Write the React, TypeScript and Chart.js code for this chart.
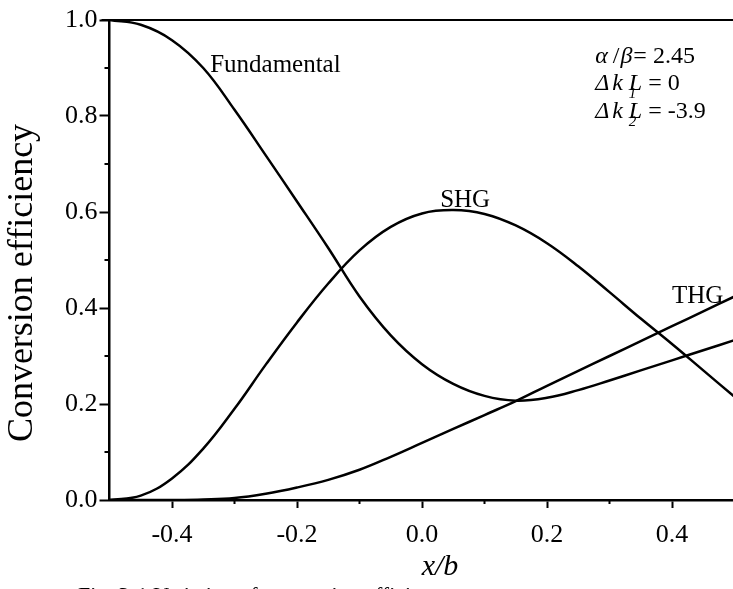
import { useEffect, useRef } from 'react';
import { Chart, registerables } from 'chart.js';

Chart.register(...registerables);

// Normalised position across the crystal
const xValues = [
  -0.5, -0.45, -0.4, -0.35, -0.3, -0.25, -0.2, -0.15, -0.1, -0.05, 0,
  0.05, 0.1, 0.15, 0.2, 0.25, 0.3, 0.35, 0.4, 0.45, 0.5,
];

// Conversion efficiency of each wave
const fundamental = [
  1.0, 0.99, 0.958, 0.9, 0.813, 0.718, 0.622, 0.525, 0.424, 0.343, 0.283,
  0.242, 0.217, 0.207, 0.213, 0.229, 0.249, 0.27, 0.291, 0.312, 0.333,
];
const shg = [
  0.0, 0.009, 0.045, 0.107, 0.19, 0.282, 0.37, 0.451, 0.52, 0.569, 0.597,
  0.604, 0.596, 0.572, 0.535, 0.487, 0.433, 0.378, 0.325, 0.27, 0.215,
];
const thg = [
  0.0, 0.0, 0.0, 0.001, 0.004, 0.013, 0.026, 0.042, 0.063, 0.09, 0.119,
  0.148, 0.177, 0.206, 0.238, 0.269, 0.3, 0.331, 0.362, 0.393, 0.424,
];

const xTickValues = [-0.4, -0.2, 0, 0.2, 0.4];
const xMinorValues = [-0.3, -0.1, 0.1, 0.3];
const yTickValues = [0, 0.2, 0.4, 0.6, 0.8, 1.0];
const yMinorValues = [0.1, 0.3, 0.5, 0.7, 0.9];

const curveLabels = [
  { text: 'Fundamental', x: -0.339, y: 0.892 },
  { text: 'SHG', x: 0.029, y: 0.61 },
  { text: 'THG', x: 0.4, y: 0.41 },
];

const parameterAnchor = { x: 0.277, rows: [0.91, 0.854, 0.796] };

const SERIF = '"Liberation Serif", "Times New Roman", serif';
const INK = '#000';

type Run = { text: string; font: string; dx?: number; dy?: number; hold?: boolean };

function drawRuns(ctx: CanvasRenderingContext2D, x: number, y: number, runs: Run[]) {
  let cx = x;
  for (const r of runs) {
    ctx.font = r.font;
    const px = cx + (r.dx || 0);
    ctx.fillText(r.text, px, y + (r.dy || 0));
    if (!r.hold) cx = px + ctx.measureText(r.text).width;
  }
}

const decorations = {
  id: 'decorations',
  afterDraw(chart: any) {
    const { ctx, chartArea, scales } = chart;
    const xs = scales.x;
    const ys = scales.y;
    ctx.save();
    ctx.strokeStyle = INK;
    ctx.fillStyle = INK;
    ctx.lineWidth = 2;

    // top frame line
    ctx.beginPath();
    ctx.moveTo(chartArea.left - 8, chartArea.top);
    ctx.lineTo(chartArea.right, chartArea.top);
    ctx.stroke();

    // minor ticks
    ctx.beginPath();
    for (const v of yMinorValues) {
      const py = ys.getPixelForValue(v);
      ctx.moveTo(chartArea.left - 5, py);
      ctx.lineTo(chartArea.left, py);
    }
    for (const v of xMinorValues) {
      const px = xs.getPixelForValue(v);
      ctx.moveTo(px, chartArea.bottom);
      ctx.lineTo(px, chartArea.bottom + 4);
    }
    ctx.stroke();

    // curve labels
    ctx.textAlign = 'left';
    ctx.textBaseline = 'alphabetic';
    ctx.font = `25px ${SERIF}`;
    for (const l of curveLabels) {
      ctx.fillText(l.text, xs.getPixelForValue(l.x), ys.getPixelForValue(l.y));
    }

    // parameter block
    const it = `italic 24px ${SERIF}`;
    const up = `24px ${SERIF}`;
    const sub = `italic 15px ${SERIF}`;
    const px0 = xs.getPixelForValue(parameterAnchor.x);
    const [r1, r2, r3] = parameterAnchor.rows.map((v) => ys.getPixelForValue(v));
    drawRuns(ctx, px0, r1, [
      { text: 'α', font: it },
      { text: '/', font: up, dx: 5 },
      { text: 'β', font: it, dx: 1 },
      { text: '=', font: up, dx: 1 },
      { text: ' 2.45', font: up },
    ]);
    drawRuns(ctx, px0, r2, [
      { text: 'Δ', font: it },
      { text: 'k', font: it, dx: 3 },
      { text: '1', font: sub, dx: 6, dy: 8, hold: true },
      { text: 'L', font: it, dx: 6 },
      { text: ' = 0', font: up },
    ]);
    drawRuns(ctx, px0, r3, [
      { text: 'Δ', font: it },
      { text: 'k', font: it, dx: 3 },
      { text: '2', font: sub, dx: 6, dy: 8, hold: true },
      { text: 'L', font: it, dx: 6 },
      { text: ' = -3.9', font: up },
    ]);

    // axis titles
    ctx.save();
    ctx.translate(32, (chartArea.top + chartArea.bottom) / 2 + 23);
    ctx.rotate(-Math.PI / 2);
    ctx.textAlign = 'center';
    ctx.font = `36px ${SERIF}`;
    ctx.fillText('Conversion efficiency', 0, 0);
    ctx.restore();

    ctx.textAlign = 'center';
    ctx.font = `italic 30px ${SERIF}`;
    ctx.fillText('x/b', (chartArea.left + chartArea.right) / 2 + 18, chartArea.bottom + 75);

    // figure caption
    ctx.textAlign = 'left';
    ctx.font = `22px ${SERIF}`;
    ctx.fillText('Fig. 3-1 Variation of conversion efficiency', 78, chartArea.bottom + 102);

    ctx.restore();
  },
};

export default function App() {
  const canvasRef = useRef<HTMLCanvasElement | null>(null);

  useEffect(() => {
    const canvas = canvasRef.current;
    if (!canvas) return;
    const series = [fundamental, shg, thg];
    const chart = new Chart(canvas, {
      type: 'line',
      data: {
        datasets: series.map((s, i) => ({
          label: ['Fundamental', 'SHG', 'THG'][i],
          data: xValues.map((x, j) => ({ x, y: s[j] })),
          borderColor: INK,
          borderWidth: 2.5,
          pointRadius: 0,
          fill: false,
          tension: 0.4,
        })),
      },
      options: {
        animation: false,
        responsive: false,
        events: [],
        layout: { padding: { left: 0, top: 20, right: 25.5, bottom: 0 } },
        plugins: { legend: { display: false }, tooltip: { enabled: false } },
        scales: {
          x: {
            type: 'linear',
            min: -0.5,
            max: 0.5,
            afterBuildTicks: (scale: any) => {
              scale.ticks = xTickValues.map((value) => ({ value }));
            },
            afterFit: (scale: any) => {
              scale.height = 89;
            },
            border: { display: true, color: INK, width: 2.5 },
            grid: { drawOnChartArea: false, drawTicks: true, tickLength: 8, tickColor: INK, tickWidth: 2 },
            ticks: {
              color: INK,
              padding: 12,
              maxRotation: 0,
              font: { family: SERIF, size: 26 },
              callback: (v: any) => Number(v).toFixed(1),
            },
          },
          y: {
            type: 'linear',
            min: 0,
            max: 1,
            afterBuildTicks: (scale: any) => {
              scale.ticks = yTickValues.map((value) => ({ value }));
            },
            afterFit: (scale: any) => {
              scale.width = 109.5;
            },
            border: { display: true, color: INK, width: 2.5 },
            grid: { drawOnChartArea: false, drawTicks: true, tickLength: 10, tickColor: INK, tickWidth: 2 },
            ticks: {
              color: INK,
              padding: 2,
              font: { family: SERIF, size: 26 },
              callback: (v: any) => Number(v).toFixed(1),
            },
          },
        },
      },
      plugins: [decorations],
    });
    return () => chart.destroy();
  }, []);

  return (
    <div
      style={{
        position: 'absolute',
        left: 0,
        top: 0,
        width: 733,
        height: 589,
        overflow: 'hidden',
        background: '#fff',
      }}
    >
      <canvas ref={canvasRef} width={760} height={589} />
    </div>
  );
}
